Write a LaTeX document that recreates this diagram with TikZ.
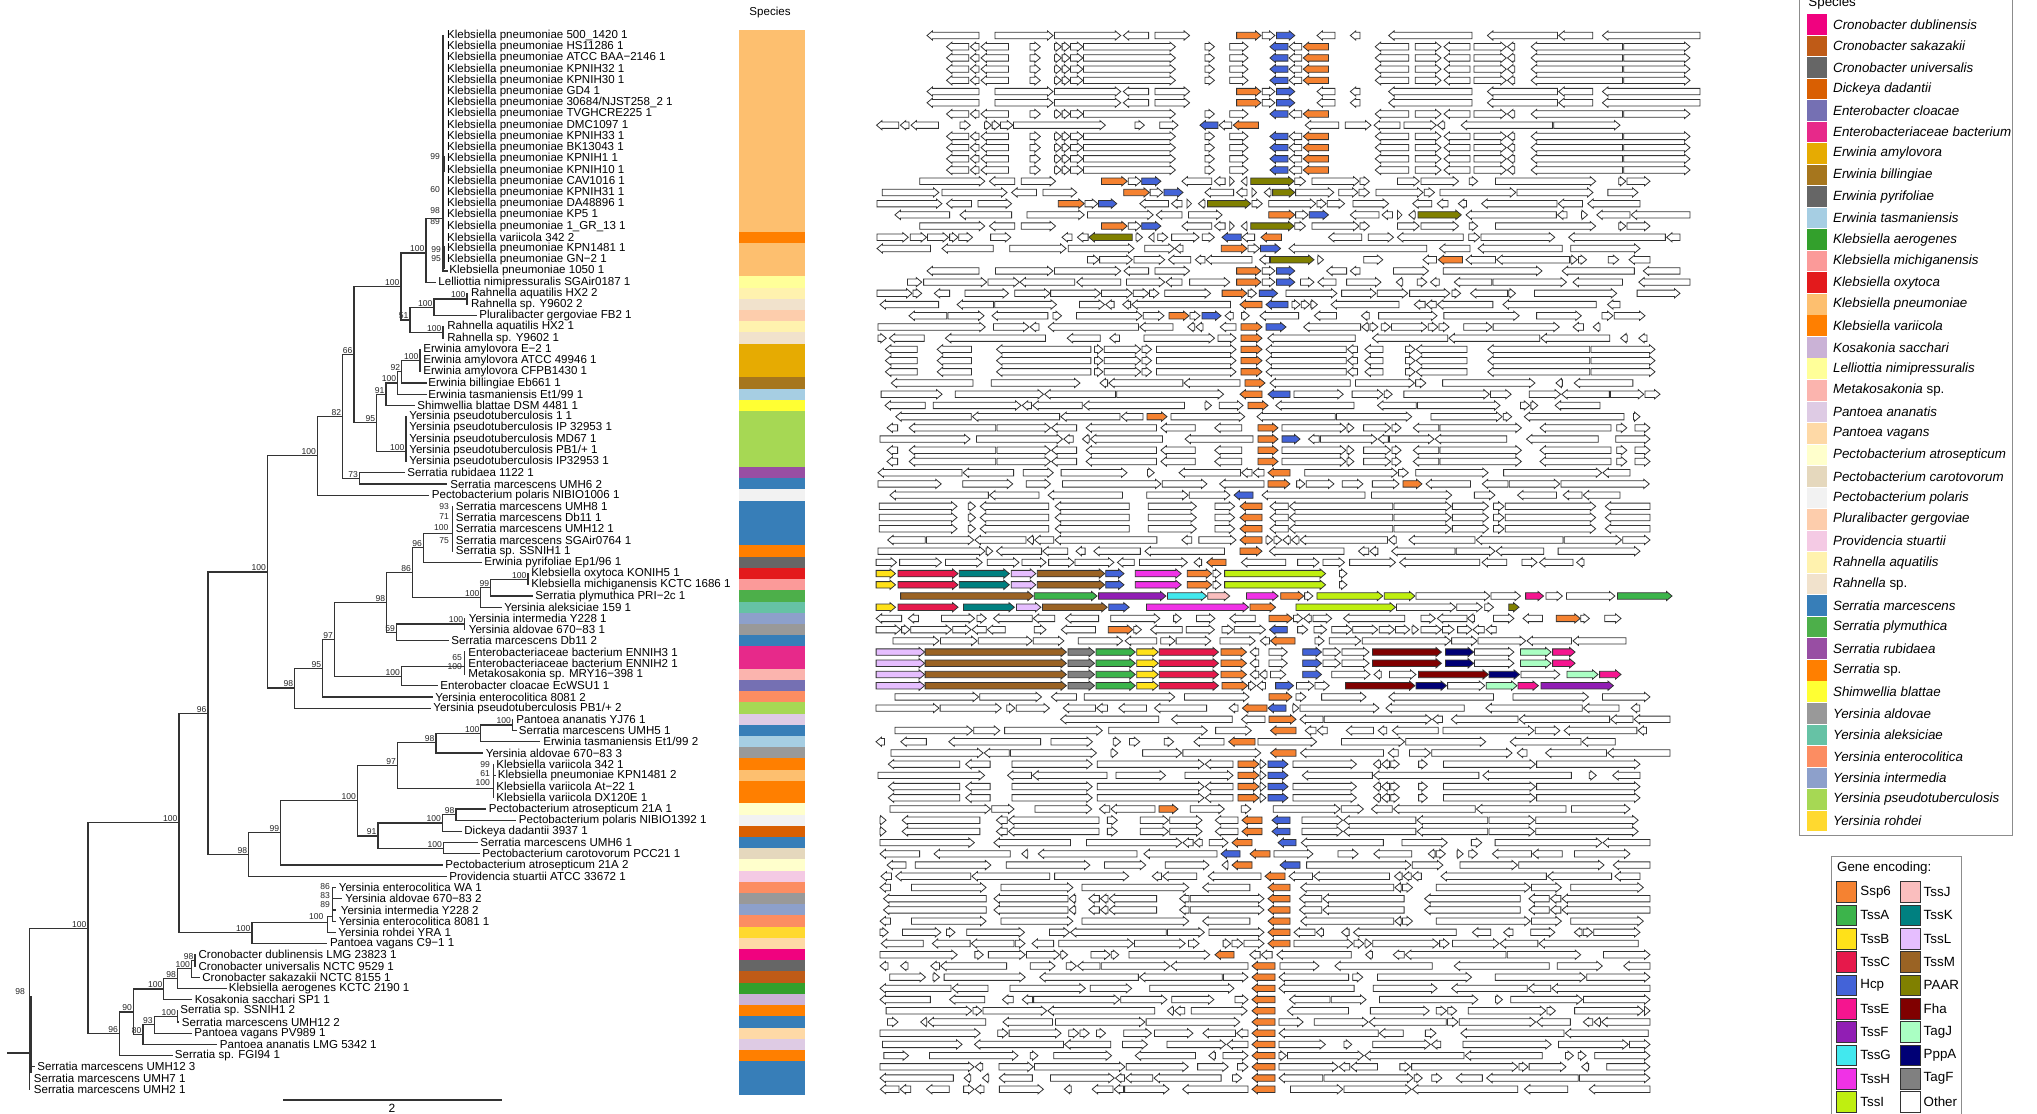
\documentclass[tikz,border=0pt]{standalone}
\usepackage{fontspec}
\setmainfont{Liberation Sans}
\newcount\bsn
\definecolor{ssp}{HTML}{F58231}\definecolor{tssA}{HTML}{3CB44B}\definecolor{tssB}{HTML}{FFE119}
\definecolor{tssC}{HTML}{E6194B}\definecolor{hcp}{HTML}{4363D8}\definecolor{tssE}{HTML}{F5158F}
\definecolor{tssF}{HTML}{911EB4}\definecolor{tssG}{HTML}{42E8EE}\definecolor{tssH}{HTML}{F032E6}
\definecolor{tssI}{HTML}{BFEF10}\definecolor{tssJ}{HTML}{FABEBE}\definecolor{tssK}{HTML}{008080}
\definecolor{tssL}{HTML}{E6BEFF}\definecolor{tssM}{HTML}{9A6324}\definecolor{paar}{HTML}{808000}
\definecolor{fha}{HTML}{800000}\definecolor{tagJ}{HTML}{AAFFC3}\definecolor{pppA}{HTML}{000075}
\definecolor{tagF}{HTML}{808080}
\definecolor{Cdub}{HTML}{F0027F}\definecolor{Csak}{HTML}{BF5B17}\definecolor{Cuni}{HTML}{666666}
\definecolor{Dick}{HTML}{D95F02}\definecolor{Eclo}{HTML}{7570B3}\definecolor{Entb}{HTML}{E7298A}
\definecolor{Eamy}{HTML}{E6AB02}\definecolor{Ebil}{HTML}{A6761D}\definecolor{Epyr}{HTML}{666666}
\definecolor{Etas}{HTML}{A6CEE3}\definecolor{Kaer}{HTML}{33A02C}\definecolor{Kmic}{HTML}{FB9A99}
\definecolor{Koxy}{HTML}{E31A1C}\definecolor{Kpne}{HTML}{FDBF6F}\definecolor{Kvar}{HTML}{FF7F00}
\definecolor{Ksac}{HTML}{CAB2D6}\definecolor{Lnim}{HTML}{FFFF99}\definecolor{Meta}{HTML}{FBB4AE}
\definecolor{Pana}{HTML}{DECBE4}\definecolor{Pvag}{HTML}{FED9A6}\definecolor{Patr}{HTML}{FFFFCC}
\definecolor{Pcar}{HTML}{E5D8BD}\definecolor{Ppol}{HTML}{F2F2F2}\definecolor{Pger}{HTML}{FDCDAC}
\definecolor{Pstu}{HTML}{F4CAE4}\definecolor{Raq}{HTML}{FFF2AE}\definecolor{Rsp}{HTML}{F1E2CC}
\definecolor{Smar}{HTML}{377EB8}\definecolor{Sply}{HTML}{4DAF4A}\definecolor{Srub}{HTML}{984EA3}
\definecolor{Ssp}{HTML}{FF7F00}\definecolor{Sbla}{HTML}{FFFF33}\definecolor{Yald}{HTML}{999999}
\definecolor{Yale}{HTML}{66C2A5}\definecolor{Yent}{HTML}{FC8D62}\definecolor{Yint}{HTML}{8DA0CB}
\definecolor{Ypse}{HTML}{A6D854}\definecolor{Yroh}{HTML}{FFD92F}
\pgfmathdeclarefunction{ry}{1}{\pgfmathparse{35.5+11.21*(#1-1)}}
\tikzset{
 tree/.style={draw=black!80, line width=0.6bp, line cap=rect},
 boot/.style={font=\fontsize{4.3}{4.5}\selectfont, anchor=south east, inner sep=0.3bp, text=black!85},
 leaflab/.style={font=\fontsize{5.8}{6}\selectfont, anchor=west, inner sep=0pt},
 gene/.style={draw=black!80, line width=0.4bp, line join=miter},
 legtext/.style={font=\fontsize{6.7}{7}\selectfont, anchor=west, inner sep=0pt},
 legbox/.style={draw=black!45, line width=0.5bp},
}
\newcommand\TrV[3]{\draw[tree] (#1,{ry(#2)}) -- (#1,{ry(#3)});}
\newcommand\TrH[3]{\draw[tree] (#1,{ry(#3)}) -- (#2,{ry(#3)});}
\newcommand\TrB[3]{\global\advance\bsn by 1\relax\node[boot] (bs\the\bsn) at ({#1-0.5},{ry(#2)}) {#3};}
\newcommand\TrBp[3]{\global\advance\bsn by 1\relax\node[boot,anchor=east] (bs\the\bsn) at (#1,#2) {#3};}
\newcommand\lf[3]{\node[leaflab] (leaf#1) at (#2,{ry(#1)}) {#3};}
\newcommand\genearrow[3]{%
  \pgfmathsetmacro\gdir{(#2)>(#1) ? 1 : -1}%
  \pgfmathsetmacro\ghl{min(5.5,abs((#2)-(#1)))}%
  \pgfmathsetmacro\gm{(#2)-(\gdir)*(\ghl)}%
  \filldraw[gene,fill=#3] (#1,\gy-3.2) -- (\gm,\gy-3.2) -- (\gm,\gy-4.6) -- (#2,\gy) -- (\gm,\gy+4.6) -- (\gm,\gy+3.2) -- (#1,\gy+3.2) -- cycle;}
\newcommand\fillwhite[2]{%
  \pgfmathsetmacro\fwx{#1+(rnd<0.5 ? 0 : 12*rnd)}%
  \pgfmathtruncatemacro\fwd{rnd<0.5 ? 1 : 0}%
  \loop
    \pgfmathsetmacro\fwl{rnd<0.27 ? 6+5*rnd : 18+90*rnd}%
    \pgfmathsetmacro\fwe{min(\fwx+\fwl,#2)}%
    \pgfmathtruncatemacro\fwok{(\fwe-\fwx)>=5 ? 1 : 0}%
    \ifnum\fwok=1
      \pgfmathtruncatemacro\fwd{rnd<0.3 ? 1-\fwd : \fwd}%
      \ifnum\fwd=1 \genearrow{\fwx}{\fwe}{white}\else\genearrow{\fwe}{\fwx}{white}\fi
    \fi
    \pgfmathsetmacro\fwx{\fwe+(rnd<0.4 ? 1.2 : 3+22*rnd)}%
  \ifdim\fwx pt<\dimexpr#2pt-5pt\relax\repeat}
\newcommand\generow[4]{%
  \pgfmathsetmacro\gy{35.5+11.21*(#1-1)}%
  \pgfmathsetseed{#2}%
  \foreach \wa/\wb in {#3}{\fillwhite{\wa}{\wb}}%
  \foreach \ga/\gb/\gc in {#4}{\genearrow{\ga}{\gb}{\gc}}}
\newcommand\patA[1]{\generow{#1}{11}{1476/1700}{979/927/white, 995/1053/white, 1054.5/1120.7/white, 1148.6/1123.3/white, 1155/1189.6/white, 1236.6/1261/ssp, 1262.3/1274.9/white, 1276.4/1294.8/hcp, 1335/1317/white, 1360/1350.3/white, 1472/1388.6/white}}
\newcommand\patB[1]{\generow{#1}{22}{1474/1690}{968.7/946.5/white, 979/970.3/white, 1008.5/981/white, 1030/1040.3/white, 1054.5/1061.4/white, 1062.1/1069.8/white, 1070.5/1082.8/white, 1083.5/1175.4/white, 1204.9/1214.4/white, 1229.7/1248/white, 1287.9/1269.9/hcp, 1301.7/1289/white, 1328.5/1303.2/ssp, 1408.8/1375.2/white, 1415.3/1441/white, 1470/1444/white}}
\newcommand\patC[1]{\generow{#1}{33}{1462/1650}{919.8/984.8/white, 1014.7/989.4/white, 1021.2/1055.6/white, 1101.5/1127.2/ssp, 1128.3/1141/white, 1141.7/1160.9/hcp, 1211.8/1181.9/white, 1225.1/1214.4/white, 1229.7/1234.3/white, 1247/1241.2/white, 1250.8/1294/paar, 1294.8/1305.5/white, 1312/1359/white, 1359.9/1369.4/white, 1397.4/1419.2/white, 1421/1458.6/white}}
\newcommand\patD[1]{\generow{#1}{49}{0/0}{876.1/895.5/tssB, 898/958/tssC, 959.3/1009.3/tssK, 1011.3/1035.8/tssL, 1037.3/1104.7/tssM, 1105.7/1124/hcp, 1135.3/1181.2/tssH, 1187.3/1211.8/ssp, 1212.9/1221/white, 1224.6/1325.6/tssI, 1339.4/1347/white}}
\newcommand\patE[1]{\generow{#1}{56}{0/0}{876.1/924.6/tssL, 925.1/1066.4/tssM, 1068/1094.5/tagF, 1096/1135.3/tssA, 1136.8/1158.3/tssB, 1159.3/1218.5/tssC, 1221/1246.5/ssp, 1258.8/1250.1/white, 1269/1287.3/white, 1302.7/1321.5/hcp, 1323/1340.4/white, 1342/1369/white, 1372.5/1441.4/fha, 1445.5/1473.6/pppA, 1474.5/1513.9/white, 1520.5/1551.1/tagJ, 1552.6/1575.1/tssE}}
\begin{document}
\begin{tikzpicture}[x=0.5bp,y=-0.5bp]
\useasboundingbox (0,0) rectangle (2037,1113);
\fill[white] (0,0) rectangle (2037,1113);
\clip (0,0) rectangle (2037,1113);
% ---------------- tree ----------------
\TrV{443}{1}{22}\TrH{443}{447}{22}\TrH{426}{443}{17.3}
\draw[tree,line width=1.1bp] (443.6,157) -- (443.6,171);
\draw[tree,line width=1.1bp] (443.6,247) -- (443.6,268);
\TrBp{441}{157}{99}\TrBp{441}{190}{60}\TrBp{441}{211}{98}\TrBp{441}{222}{89}\TrBp{442}{250}{99}\TrBp{442}{259}{95}
\TrV{426}{17.3}{23}\TrH{426}{435}{23}\TrB{426}{20.4}{100}\TrH{401}{426}{20.4}
\TrV{467}{24}{25}\TrB{467}{24.5}{100}\TrH{434}{467}{24.5}
\TrV{434}{24.5}{26}\TrH{434}{476.7}{26}\TrB{434}{25.25}{100}\TrH{410}{434}{25.25}
\TrV{443}{27}{28}\TrB{443}{27.5}{100}\TrH{410}{443}{27.5}
\TrV{410}{25.25}{27.5}\TrB{410}{26.375}{51}\TrH{401}{410}{26.375}
\TrV{401}{20.4}{26.375}\TrB{401}{23.4}{100}\TrH{354}{401}{23.4}
\TrV{420}{29}{31}\TrB{420}{30}{100}\TrH{401.7}{420}{30}
\TrV{401.7}{30}{32}\TrH{401.7}{426}{32}\TrB{401.7}{31}{92}\TrH{397.7}{401.7}{31}
\TrV{397.7}{31}{33}\TrH{397.7}{426}{33}\TrB{397.7}{32}{100}\TrH{386}{397.7}{32}
\TrV{386}{32}{34}\TrH{386}{414}{34}\TrB{386}{33}{91}\TrH{376.7}{386}{33}
\TrV{406}{35}{39}\TrB{406}{38.1}{100}\TrH{376.7}{406}{38.1}
\TrV{376.7}{33}{38.1}\TrB{376.7}{35.55}{95}\TrH{354}{376.7}{35.55}
\TrV{354}{23.4}{35.55}\TrB{354}{29.45}{66}\TrH{342.7}{354}{29.45}
\TrV{359.3}{40}{41}\TrH{359.3}{404}{40}\TrH{359.3}{446}{41}\TrB{359.3}{40.5}{73}\TrH{342.7}{359.3}{40.5}
\TrV{342.7}{29.45}{40.5}\TrB{342.7}{34.97}{82}\TrH{317.3}{342.7}{34.97}
\TrV{317.3}{34.97}{42}\TrH{317.3}{428}{42}\TrB{317.3}{38.5}{100}\TrH{267.3}{317.3}{38.5}
\TrV{452.3}{43}{47}\TrH{423.3}{452.3}{45.4}
\TrBp{450}{506.7}{93}\TrBp{450}{516.7}{71}\TrBp{449.5}{527.7}{100}\TrBp{450}{541}{75}
\TrV{423.3}{45.4}{48}\TrH{423.3}{481}{48}\TrB{423.3}{46.7}{96}\TrH{412.3}{423.3}{46.7}
\TrV{528}{49}{50}\TrB{528}{49.5}{100}\TrH{490.6}{528}{49.5}
\TrV{490.6}{49.5}{51}\TrH{490.6}{532}{51}\TrB{490.6}{50.25}{99}\TrH{480.8}{490.6}{50.25}
\TrV{480.8}{50.25}{52}\TrH{480.8}{501.5}{52}\TrB{480.8}{51.125}{100}\TrH{412.3}{480.8}{51.125}
\TrV{412.3}{46.7}{51.125}\TrB{412.3}{48.9}{86}\TrH{386.7}{412.3}{48.9}
\TrV{464.7}{53}{54}\TrB{464.7}{53.5}{100}\TrH{396.3}{464.7}{53.5}
\TrV{396.3}{53.5}{55}\TrH{396.3}{448}{55}\TrB{396.3}{54.25}{59}\TrH{386.7}{396.3}{54.25}
\TrV{386.7}{48.9}{54.25}\TrB{386.7}{51.58}{98}\TrH{334.3}{386.7}{51.58}
\TrV{464.7}{56}{58}\TrBp{463}{658}{65}\TrBp{463}{667}{100}\TrH{401.5}{464.7}{57.3}
\TrV{401.5}{57.3}{59}\TrH{401.5}{437.5}{59}\TrB{401.5}{58.15}{100}\TrH{334.3}{401.5}{58.15}
\TrV{334.3}{51.58}{58.15}\TrB{334.3}{54.87}{97}\TrH{322.7}{334.3}{54.87}
\TrV{322.7}{54.87}{60}\TrH{322.7}{432.5}{60}\TrB{322.7}{57.43}{95}\TrH{294.7}{322.7}{57.43}
\TrV{294.7}{57.43}{61}\TrH{294.7}{430.5}{61}\TrB{294.7}{59.2}{98}\TrH{267.3}{294.7}{59.2}
\TrV{267.3}{38.5}{59.2}\TrB{267.3}{48.85}{100}\TrH{208}{267.3}{48.85}
\TrV{512.4}{62}{63}\TrH{512.4}{516}{63}\TrB{512.4}{62.5}{100}\TrH{480.8}{512.4}{62.5}
\TrV{480.8}{62.5}{64}\TrH{480.8}{539}{64}\TrB{480.8}{63.25}{100}\TrH{436}{480.8}{63.25}
\TrV{436}{63.25}{65}\TrH{436}{482}{65}\TrB{436}{64.1}{98}\TrH{397.5}{436}{64.1}
\TrV{493.3}{66}{69}\TrH{493.3}{495}{67}\TrBp{491}{765}{99}\TrBp{491}{774}{61}\TrBp{491}{783}{100}\TrH{397.5}{493.3}{68.15}
\TrV{397.5}{64.1}{68.15}\TrB{397.5}{66.1}{97}\TrH{357.3}{397.5}{66.1}
\TrV{456}{70}{71}\TrH{456}{485}{70}\TrH{456}{515.7}{71}\TrB{456}{70.5}{98}\TrH{442.3}{456}{70.5}
\TrV{442.3}{70.5}{72}\TrH{442.3}{461}{72}\TrB{442.3}{71.25}{100}\TrH{378}{442.3}{71.25}
\TrV{443.5}{73}{74}\TrH{443.5}{477.5}{73}\TrH{443.5}{479.6}{74}\TrB{443.5}{73.5}{100}\TrH{378}{443.5}{73.5}
\TrV{378}{71.25}{73.5}\TrB{378}{72.4}{91}\TrH{357.3}{378}{72.4}
\TrV{357.3}{66.1}{72.4}\TrB{357.3}{69.25}{100}\TrH{280.6}{357.3}{69.25}
\TrV{280.6}{69.25}{75}\TrH{280.6}{442}{75}\TrB{280.6}{72.1}{99}\TrH{248.7}{280.6}{72.1}
\TrV{248.7}{72.1}{76}\TrH{248.7}{446}{76}\TrB{248.7}{74.05}{98}\TrH{208}{248.7}{74.05}
\TrV{208}{48.85}{74.05}\TrB{208}{61.45}{96}\TrH{179}{208}{61.45}
\TrV{332.4}{77}{80}\TrH{332.4}{335}{77}\TrH{332.4}{341.5}{78}\TrH{332.4}{335}{79}\TrH{332.4}{335}{80}
\TrBp{331}{886.7}{86}\TrBp{331}{895.7}{83}\TrBp{331}{905}{89}\TrBp{324.5}{916.7}{100}
\TrV{327.5}{79.6}{81}\TrH{327.5}{335}{81}\TrH{327.5}{332.4}{79.6}\TrH{252}{327.5}{80.1}
\TrV{252}{80.1}{82}\TrH{252}{326.7}{82}\TrB{252}{81.0}{100}\TrH{179}{252}{81.0}
\TrV{179}{61.45}{81.0}\TrB{179}{71.23}{100}\TrH{88}{179}{71.23}
\TrV{194.9}{83}{84}\TrB{194.9}{83.5}{98}\TrH{191.5}{194.9}{83.5}
\TrV{191.5}{83.5}{85}\TrH{191.5}{199}{85}\TrB{191.5}{84.25}{100}\TrH{177.4}{191.5}{84.25}
\TrV{177.4}{84.25}{86}\TrH{177.4}{226}{86}\TrB{177.4}{85.1}{98}\TrH{163.8}{177.4}{85.1}
\TrV{163.8}{85.1}{87}\TrH{163.8}{191.5}{87}\TrB{163.8}{86.05}{100}\TrH{133.5}{163.8}{86.05}
\TrV{177.4}{88}{89}\TrH{177.4}{178.5}{89}\TrB{177.4}{88.5}{100}\TrH{154.2}{177.4}{88.5}
\TrV{154.2}{88.5}{90}\TrH{154.2}{191.5}{90}\TrB{154.2}{89.25}{93}\TrH{143}{154.2}{89.25}
\TrV{143}{89.25}{91}\TrH{143}{216.4}{91}\TrB{143}{90.1}{80}\TrH{133.5}{143}{90.1}
\TrV{133.5}{86.05}{90.1}\TrB{133.5}{88.1}{90}\TrH{119.4}{133.5}{88.1}
\TrV{119.4}{88.1}{92}\TrH{119.4}{172}{92}\TrB{119.4}{90.05}{96}\TrH{88}{119.4}{90.05}
\TrV{88}{71.23}{90.05}\TrB{88}{80.65}{100}\TrH{29.5}{88}{80.65}
\TrV{29.5}{80.65}{95}\TrH{29.5}{34}{93}
\draw[tree,line width=1.1bp] (30.5,997) -- (30.5,1072);
\draw[tree] (8,1053) -- (29.5,1053);
\TrBp{26}{992}{98}
% ---------------- leaf labels ----------------
\lf{1}{446.7}{Klebsiella pneumoniae 500\_1420 1}
\lf{2}{446.7}{Klebsiella pneumoniae HS11286 1}
\lf{3}{446.7}{Klebsiella pneumoniae ATCC BAA−2146 1}
\lf{4}{446.7}{Klebsiella pneumoniae KPNIH32 1}
\lf{5}{446.7}{Klebsiella pneumoniae KPNIH30 1}
\lf{6}{446.7}{Klebsiella pneumoniae GD4 1}
\lf{7}{446.7}{Klebsiella pneumoniae 30684/NJST258\_2 1}
\lf{8}{446.7}{Klebsiella pneumoniae TVGHCRE225 1}
\lf{9}{446.7}{Klebsiella pneumoniae DMC1097 1}
\lf{10}{446.7}{Klebsiella pneumoniae KPNIH33 1}
\lf{11}{446.7}{Klebsiella pneumoniae BK13043 1}
\lf{12}{446.7}{Klebsiella pneumoniae KPNIH1 1}
\lf{13}{446.7}{Klebsiella pneumoniae KPNIH10 1}
\lf{14}{446.7}{Klebsiella pneumoniae CAV1016 1}
\lf{15}{446.7}{Klebsiella pneumoniae KPNIH31 1}
\lf{16}{446.7}{Klebsiella pneumoniae DA48896 1}
\lf{17}{446.7}{Klebsiella pneumoniae KP5 1}
\lf{18}{446.7}{Klebsiella pneumoniae 1\_GR\_13 1}
\lf{19}{446.7}{Klebsiella variicola 342 2}
\lf{20}{446.7}{Klebsiella pneumoniae KPN1481 1}
\lf{21}{446.7}{Klebsiella pneumoniae GN−2 1}
\lf{22}{449}{Klebsiella pneumoniae 1050 1}
\lf{23}{438}{Lelliottia nimipressuralis SGAir0187 1}
\lf{24}{470.7}{Rahnella aquatilis HX2 2}
\lf{25}{470.7}{Rahnella sp. Y9602 2}
\lf{26}{479}{Pluralibacter gergoviae FB2 1}
\lf{27}{447}{Rahnella aquatilis HX2 1}
\lf{28}{447}{Rahnella sp. Y9602 1}
\lf{29}{423}{Erwinia amylovora E−2 1}
\lf{30}{423}{Erwinia amylovora ATCC 49946 1}
\lf{31}{423}{Erwinia amylovora CFPB1430 1}
\lf{32}{428}{Erwinia billingiae Eb661 1}
\lf{33}{428}{Erwinia tasmaniensis Et1/99 1}
\lf{34}{417}{Shimwellia blattae DSM 4481 1}
\lf{35}{409}{Yersinia pseudotuberculosis 1 1}
\lf{36}{409}{Yersinia pseudotuberculosis IP 32953 1}
\lf{37}{409}{Yersinia pseudotuberculosis MD67 1}
\lf{38}{409}{Yersinia pseudotuberculosis PB1/+ 1}
\lf{39}{409}{Yersinia pseudotuberculosis IP32953 1}
\lf{40}{407}{Serratia rubidaea 1122 1}
\lf{41}{450}{Serratia marcescens UMH6 2}
\lf{42}{431.5}{Pectobacterium polaris NIBIO1006 1}
\lf{43}{455.5}{Serratia marcescens UMH8 1}
\lf{44}{455.5}{Serratia marcescens Db11 1}
\lf{45}{455.5}{Serratia marcescens UMH12 1}
\lf{46}{455.5}{Serratia marcescens SGAir0764 1}
\lf{47}{455.5}{Serratia sp. SSNIH1 1}
\lf{48}{484}{Erwinia pyrifoliae Ep1/96 1}
\lf{49}{531}{Klebsiella oxytoca KONIH5 1}
\lf{50}{531}{Klebsiella michiganensis KCTC 1686 1}
\lf{51}{535}{Serratia plymuthica PRI−2c 1}
\lf{52}{504}{Yersinia aleksiciae 159 1}
\lf{53}{468.5}{Yersinia intermedia Y228 1}
\lf{54}{468.5}{Yersinia aldovae 670−83 1}
\lf{55}{451}{Serratia marcescens Db11 2}
\lf{56}{468}{Enterobacteriaceae bacterium ENNIH3 1}
\lf{57}{468}{Enterobacteriaceae bacterium ENNIH2 1}
\lf{58}{468}{Metakosakonia sp. MRY16−398 1}
\lf{59}{440}{Enterobacter cloacae EcWSU1 1}
\lf{60}{435}{Yersinia enterocolitica 8081 2}
\lf{61}{433}{Yersinia pseudotuberculosis PB1/+ 2}
\lf{62}{516}{Pantoea ananatis YJ76 1}
\lf{63}{518.5}{Serratia marcescens UMH5 1}
\lf{64}{543}{Erwinia tasmaniensis Et1/99 2}
\lf{65}{485.5}{Yersinia aldovae 670−83 3}
\lf{66}{496}{Klebsiella variicola 342 1}
\lf{67}{497.5}{Klebsiella pneumoniae KPN1481 2}
\lf{68}{496}{Klebsiella variicola At−22 1}
\lf{69}{496}{Klebsiella variicola DX120E 1}
\lf{70}{488.5}{Pectobacterium atrosepticum 21A 1}
\lf{71}{518.5}{Pectobacterium polaris NIBIO1392 1}
\lf{72}{464}{Dickeya dadantii 3937 1}
\lf{73}{480}{Serratia marcescens UMH6 1}
\lf{74}{482}{Pectobacterium carotovorum PCC21 1}
\lf{75}{445}{Pectobacterium atrosepticum 21A 2}
\lf{76}{449}{Providencia stuartii ATCC 33672 1}
\lf{77}{338.5}{Yersinia enterocolitica WA 1}
\lf{78}{345}{Yersinia aldovae 670−83 2}
\lf{79}{340.5}{Yersinia intermedia Y228 2}
\lf{80}{338.5}{Yersinia enterocolitica 8081 1}
\lf{81}{338}{Yersinia rohdei YRA 1}
\lf{82}{329.6}{Pantoea vagans C9−1 1}
\lf{83}{198.2}{Cronobacter dublinensis LMG 23823 1}
\lf{84}{198.2}{Cronobacter universalis NCTC 9529 1}
\lf{85}{202}{Cronobacter sakazakii NCTC 8155 1}
\lf{86}{228.5}{Klebsiella aerogenes KCTC 2190 1}
\lf{87}{194.5}{Kosakonia sacchari SP1 1}
\lf{88}{180}{Serratia sp. SSNIH1 2}
\lf{89}{181.5}{Serratia marcescens UMH12 2}
\lf{90}{194}{Pantoea vagans PV989 1}
\lf{91}{219.5}{Pantoea ananatis LMG 5342 1}
\lf{92}{174.5}{Serratia sp. FGI94 1}
\lf{93}{37}{Serratia marcescens UMH12 3}
\lf{94}{33.5}{Serratia marcescens UMH7 1}
\lf{95}{33.5}{Serratia marcescens UMH2 1}
% scale bar
\draw[tree] (284,1100) -- (501,1100);
\node[font=\fontsize{6}{6}\selectfont, inner sep=0pt] (scalelab) at (392,1108.5) {2};
% ---------------- species bar ----------------
\node[font=\fontsize{5.8}{6}\selectfont, inner sep=0pt] (spechead) at (770,13) {Species};
\foreach \r/\scol in {1/Kpne,2/Kpne,3/Kpne,4/Kpne,5/Kpne,6/Kpne,7/Kpne,8/Kpne,9/Kpne,10/Kpne,11/Kpne,12/Kpne,13/Kpne,14/Kpne,15/Kpne,16/Kpne,17/Kpne,18/Kpne,19/Kvar,20/Kpne,21/Kpne,22/Kpne,23/Lnim,24/Raq,25/Rsp,26/Pger,27/Raq,28/Rsp,29/Eamy,30/Eamy,31/Eamy,32/Ebil,33/Etas,34/Sbla,35/Ypse,36/Ypse,37/Ypse,38/Ypse,39/Ypse,40/Srub,41/Smar,42/Ppol,43/Smar,44/Smar,45/Smar,46/Smar,47/Ssp,48/Epyr,49/Koxy,50/Kmic,51/Sply,52/Yale,53/Yint,54/Yald,55/Smar,56/Entb,57/Entb,58/Meta,59/Eclo,60/Yent,61/Ypse,62/Pana,63/Smar,64/Etas,65/Yald,66/Kvar,67/Kpne,68/Kvar,69/Kvar,70/Patr,71/Ppol,72/Dick,73/Smar,74/Pcar,75/Patr,76/Pstu,77/Yent,78/Yald,79/Yint,80/Yent,81/Yroh,82/Pvag,83/Cdub,84/Cuni,85/Csak,86/Kaer,87/Ksac,88/Ssp,89/Smar,90/Pvag,91/Pana,92/Ssp,93/Smar,94/Smar,95/Smar}
  {\fill[\scol] (739,{ry(\r)-5.7}) rectangle (805,{ry(\r)+5.7});}
% ---------------- gene rows ----------------
\patA{1}\patB{2}\patB{3}\patB{4}\patB{5}\patA{6}\patA{7}\patB{8}
\begin{scope}[xshift=-35bp]\patB{9}\end{scope}
\patB{10}\patB{11}\patB{12}\patB{13}\patC{14}
\generow{15}{115}{1440/1660}{882.2/938.9/white, 941.9/1007/white, 1036.5/1011.6/white, 1043/1076.7/white, 1123.7/1149.4/ssp, 1150.1/1162.8/white, 1163.9/1183/hcp, 1233.6/1204.9/white, 1247/1236.6/white, 1252/1256.5/white, 1271/1264.2/white, 1272.6/1294.8/paar, 1295.6/1333.8/white, 1338.8/1357.9/white, 1359/1369.4/white, 1375.9/1423/white, 1424.2/1434.5/white}
\generow{16}{116}{1452/1640}{876.9/941.9/white, 971.4/946.5/white, 977.9/1011.6/white, 1058.3/1084.3/ssp, 1085/1097.7/white, 1098.5/1116.8/hcp, 1168.5/1139.8/white, 1181.9/1171.6/white, 1186.9/1191.5/white, 1204.9/1198.4/white, 1207.5/1250.8/paar, 1252/1262.3/white, 1268.8/1315.8/white, 1317/1326.2/white, 1327.3/1344.6/white, 1353/1388.6/white, 1431.8/1412.7/white, 1447.9/1437.2/white}
\generow{17}{117}{1466/1690}{949.6/894.9/white, 1011.6/959.9/white, 1026.9/1084.3/white, 1087.4/1153.2/white, 1181.9/1156.3/white, 1188.4/1222.1/white, 1268.8/1294.8/ssp, 1295.6/1308.2/white, 1309.3/1328.5/hcp, 1379/1350.3/white, 1392.4/1382/white, 1397.4/1402/white, 1415.3/1408.8/white, 1418/1461.3/paar}
\patC{18}
\generow{19}{119}{1466/1680}{877/908.3/white, 910.2/926.6/white, 927.4/948.5/white, 949.6/958/white, 958.8/972.6/white, 990.6/1010.8/white, 1072/1062/white, 1088.1/1077.4/white, 1132.2/1088.9/paar, 1136/1142.5/white, 1154/1148.6/white, 1157.8/1167.7/white, 1171.6/1199.1/white, 1202.2/1214.4/white, 1241.2/1222/hcp, 1254.6/1242/white, 1281.4/1261/ssp, 1361.8/1328.5/white, 1368.3/1393.5/white, 1463.2/1397.4/white}
\generow{20}{120}{1474/1640}{930.5/877/white, 993.2/942/white, 1009.7/1066/white, 1068.2/1134/white, 1144.8/1174.3/white, 1183/1174.8/white, 1221.3/1247/ssp, 1248/1259.6/white, 1260.4/1280.6/hcp, 1426.8/1289/white, 1470/1439.5/white}
\generow{21}{121}{1466/1650}{1087.4/1098.9/white, 1099.6/1132.2/white, 1134/1164.7/white, 1190.7/1168.5/white, 1204.9/1195.3/white, 1252/1206/white, 1269.5/1259.6/white, 1270.5/1314/paar, 1317.8/1323.5/white, 1363.7/1382.8/white, 1436.4/1423/white, 1462.4/1438.3/ssp}
\generow{22}{122}{1432/1680}{979/927/white, 995.5/1052.9/white, 1054.5/1120.7/white, 1148.6/1124/white, 1155/1189.6/white, 1236.6/1261/ssp, 1262.3/1274.9/white, 1276.4/1294.8/hcp, 1346.6/1326.6/white, 1360/1350.3/white, 1393.5/1428.5/white}
\generow{23}{123}{1430/1690}{907.5/921.7/white, 923.6/986.7/white, 987.9/1019.3/white, 1074.7/1020/white, 1120.7/1076.7/white, 1126.4/1164.7/white, 1181.9/1166/white, 1189.6/1229.7/white, 1236.6/1261/ssp, 1262.3/1274.9/white, 1276.4/1294.8/hcp, 1300.5/1314/white, 1336/1317.8/white, 1346.6/1381/white, 1402.7/1396.2/white, 1417.2/1426.8/white}
\generow{24}{124}{1452/1680}{876.9/912/white, 912.9/921.7/white, 949.6/934.3/white, 964.9/1008.5/white, 1014.7/1049.9/white, 1050.6/1100.4/white, 1101.5/1132.2/white, 1133.3/1148.6/white, 1149.4/1158.9/white, 1164.7/1210.6/white, 1222.1/1247/ssp, 1248.1/1256.5/white, 1259.2/1277.6/hcp, 1286/1336.9/white, 1341.6/1376/white, 1377.2/1407.7/white, 1409.6/1449.8/white}
\generow{25}{125}{880/1234, 1292/1620}{1262/1240/ssp, 1288/1266/hcp}
\generow{26}{126}{900/1164, 1225/1645}{1169/1189/ssp, 1190/1200/white, 1202/1221/hcp}
\generow{27}{127}{878/1236, 1292/1600}{1241/1262/ssp, 1266/1286/hcp}
\generow{28}{128}{878/1236, 1266/1650}{1241/1262/ssp}
\generow{29}{129}{880/1236, 1266/1655}{1241/1262/ssp}
\generow{30}{129}{880/1236, 1266/1655}{1241/1262/ssp}
\generow{31}{129}{880/1236, 1266/1655}{1241/1262/ssp}
\generow{32}{132}{882/1240, 1270/1640}{1245/1265/ssp}
\generow{33}{133}{878/1236, 1294/1660}{1262/1240/ssp, 1290/1268/hcp}
\generow{34}{134}{885/1243, 1272/1600}{1248/1268/ssp}
\generow{35}{135}{890/1143, 1171/1640}{1147/1167/ssp}
\generow{36}{136}{880/1253, 1282/1650}{1258/1278/ssp}
\generow{37}{137}{880/1253, 1304/1650}{1258/1278/ssp, 1282/1300/hcp}
\generow{38}{136}{880/1253, 1282/1650}{1258/1278/ssp}
\generow{39}{136}{880/1253, 1282/1650}{1258/1278/ssp}
\generow{40}{140}{878/1264, 1294/1630}{1290/1268/ssp}
\generow{41}{141}{878/1264, 1294/1399, 1426/1660}{1268/1290/ssp, 1403/1422/ssp}
\generow{42}{142}{878/1230, 1257/1620}{1253/1234/hcp}
\generow{43}{143}{878/1236, 1266/1650}{1262/1240/ssp}
\generow{44}{143}{878/1236, 1266/1650}{1262/1240/ssp}
\generow{45}{143}{878/1236, 1266/1650}{1262/1240/ssp}
\generow{46}{146}{878/1236, 1266/1650}{1262/1240/ssp}
\generow{47}{147}{878/1236, 1266/1640}{1240/1262/ssp}
\generow{48}{148}{0/0}{876.1/896.5/white, 899.6/941.4/white, 945.5/982.2/white, 987.3/1019/white, 1022/1046/white, 1048.6/1074/white, 1075/1113.9/white, 1134.3/1117.4/white, 1139.4/1187.3/white, 1201.6/1194/white, 1226/1206.7/ssp, 1285.8/1241.4/white, 1297.6/1319/white, 1323/1344.5/white, 1349.6/1395.5/white, 1479.7/1399.6/white, 1506.7/1482/white, 1522/1537/white, 1573/1539.4/white, 1584/1576.6/white}
\patD{49}\patD{50}
\generow{51}{151}{0/0}{900.6/1033.3/tssM, 1034.3/1097/tssA, 1098.6/1165.9/tssF, 1167.4/1206.7/tssG, 1207.8/1229.7/tssJ, 1246.5/1278.2/tssH, 1280.7/1303.7/ssp, 1304.6/1312.9/white, 1316.9/1382.8/tssI, 1384.3/1414.9/tssI, 1416/1489.9/white, 1491/1520.5/white, 1525.6/1543.5/tssE, 1546/1562.4/white, 1566.5/1614.9/white, 1617.4/1672/tssA}
\generow{52}{152}{0/0}{876.1/895.5/tssB, 898/958/tssC, 963.4/1014.4/tssK, 1016.4/1040.9/tssL, 1042.4/1107.2/tssM, 1108.8/1129.2/hcp, 1146.5/1248.6/tssH, 1250/1275.6/ssp, 1296/1395.5/tssI, 1396.5/1455.7/white, 1456.8/1482.2/white, 1484.7/1493.5/white, 1508.8/1519/paar}
\generow{53}{153}{0/0}{901.6/876.1/white, 918.5/908.3/white, 941.4/974.6/white, 977/986.3/white, 1032.2/993.5/white, 1054.7/1033.3/white, 1098.6/1065.4/white, 1110.8/1159.8/white, 1173.6/1181.2/white, 1196.5/1214.9/white, 1255.2/1229.7/white, 1269/1292.4/ssp, 1293.5/1302.7/white, 1311.3/1303.7/white, 1312.9/1331.7/white, 1404.7/1343.5/white, 1421/1435.3/white, 1467/1437.3/white, 1474.5/1467.5/white, 1493.5/1513.9/white, 1542.4/1523/white, 1556.2/1580.2/ssp, 1580.8/1589.4/white, 1604.7/1621/white}
\generow{54}{154}{0/0}{876.1/900.6/white, 901.6/909.8/white, 910.8/951.6/white, 952.7/971/white, 986.3/972/white, 1005.2/987.3/white, 1034.3/1046/white, 1095.5/1061.3/white, 1108.3/1132.7/ssp, 1133.8/1141.4/white, 1182.2/1150.6/white, 1186.3/1214.4/white, 1222/1233.3/white, 1234.3/1265.4/white, 1287.3/1269.5/hcp, 1297.6/1307.7/white, 1313.9/1326.6/white, 1331.7/1352.1/white, 1352.8/1377.7/white, 1379.3/1394.5/white, 1395.5/1409.7/white, 1411.9/1418.5/white, 1421/1441.4/white, 1442.4/1454.1/white, 1457.6/1471.9/white, 1484.2/1473/white, 1496.2/1486.1/white}
\generow{55}{155}{0/0}{893/938.9/white, 940.4/977.1/white, 978.2/1032.2/white, 1033.3/1063.9/white, 1078.2/1122.6/white, 1156.7/1125.1/white, 1160.8/1175.1/white, 1176.1/1210.8/white, 1220/1255.2/white, 1269.5/1260.3/white, 1295/1270.5/ssp, 1314.9/1324.1/white, 1329.2/1360.8/white, 1362.3/1450.6/white, 1451.6/1477.1/white, 1478/1525.6/white, 1571.5/1527/white, 1626/1573/white}
\patE{56}\patE{57}
\generow{58}{158}{0/0}{876.1/924.6/tssL, 925.1/1066.4/tssM, 1068/1094.5/tagF, 1096/1135.3/tssA, 1136.8/1158.3/tssB, 1159.3/1218.5/tssC, 1221/1246.5/ssp, 1258.8/1250.1/white, 1267/1259.6/white, 1270.5/1285.8/white, 1302.7/1321.5/hcp, 1331.7/1370/white, 1381.2/1374/white, 1389.4/1415.9/white, 1418.5/1488.4/fha, 1489/1519.5/pppA, 1521/1559.8/white, 1567/1598/tagJ, 1599.6/1621/tssE}
\generow{59}{159}{0/0}{876.1/924.6/tssL, 925.1/1066.4/tssM, 1068/1094.5/tagF, 1096/1135.3/tssA, 1136.8/1158.3/tssB, 1159.3/1218.5/tssC, 1222/1247.6/ssp, 1248.6/1256/white, 1265.4/1257/white, 1275.6/1293.5/hcp, 1296.5/1313.9/white, 1314.9/1329.2/white, 1345.5/1414.9/fha, 1416/1446.5/pppA, 1447.6/1484.8/white, 1486.3/1517/tagJ, 1518/1538.4/tssE, 1541/1613.4/tssF}
\generow{60}{160}{895/1265, 1296/1650}{1269/1292/ssp}
\generow{61}{161}{876/1238, 1290/1640}{1267/1242.4/ssp, 1286/1268/hcp}
\generow{62}{162}{1060/1265, 1300/1670}{1269/1296/ssp}
\generow{63}{163}{895/1266, 1300/1650}{1296/1270.5/ssp}
\generow{64}{164}{876/1224, 1258/1630}{1255/1228.7/ssp}
\generow{65}{165}{882/1266, 1300/1670}{1296/1270.5/ssp}
\generow{66}{166}{878/1233, 1293/1640}{1238/1259/ssp, 1260/1266/white, 1268/1288/hcp}
\generow{67}{167}{878/1233, 1293/1640}{1238/1259/ssp, 1260/1266/white, 1268/1288/hcp}
\generow{68}{166}{878/1233, 1293/1640}{1238/1259/ssp, 1260/1266/white, 1268/1288/hcp}
\generow{69}{166}{878/1233, 1293/1640}{1238/1259/ssp, 1260/1266/white, 1268/1288/hcp}
\generow{70}{170}{890/1155, 1182/1630}{1159/1178/ssp}
\generow{71}{171}{880/1238, 1294/1640}{1262/1242/ssp, 1290/1272/hcp}
\generow{72}{171}{880/1238, 1294/1640}{1262/1242/ssp, 1290/1272/hcp}
\generow{73}{173}{880/1228, 1300/1650}{1252/1232/ssp, 1296/1278/hcp}
\generow{74}{174}{880/1217, 1274/1630}{1240/1221/hcp, 1270/1250/ssp}
\generow{75}{175}{880/1228, 1304/1650}{1252/1232/ssp, 1300/1280/hcp}
\generow{76}{176}{880/1261, 1289/1640}{1285/1265/ssp}
\generow{77}{177}{880/1264, 1294/1650}{1290/1268/ssp}
\generow{78}{178}{880/1264, 1294/1650}{1290/1268/ssp}
\generow{79}{178}{880/1264, 1294/1650}{1290/1268/ssp}
\generow{80}{177}{880/1264, 1294/1650}{1290/1268/ssp}
\generow{81}{181}{880/1264, 1294/1640}{1290/1268/ssp}
\generow{82}{182}{880/1264, 1294/1640}{1290/1268/ssp}
\generow{83}{183}{880/1211, 1238/1650}{1234/1215/ssp}
\generow{84}{184}{880/1248, 1279/1650}{1275/1252/ssp}
\generow{85}{185}{880/1248, 1279/1650}{1275/1252/ssp}
\generow{86}{186}{880/1248, 1279/1650}{1275/1252/ssp}
\generow{87}{187}{880/1248, 1279/1650}{1275/1252/ssp}
\generow{88}{188}{880/1248, 1279/1650}{1275/1252/ssp}
\generow{89}{189}{880/1248, 1279/1650}{1275/1252/ssp}
\generow{90}{190}{880/1248, 1279/1650}{1275/1252/ssp}
\generow{91}{191}{880/1248, 1279/1650}{1275/1252/ssp}
\generow{92}{192}{880/1248, 1279/1650}{1275/1252/ssp}
\generow{93}{193}{880/1248, 1279/1650}{1275/1252/ssp}
\generow{94}{194}{880/1248, 1279/1650}{1275/1252/ssp}
\generow{95}{195}{880/1248, 1279/1650}{1275/1252/ssp}
% ---------------- species legend ----------------
\draw[legbox] (1799.3,-10) rectangle (2012.7,835.7);
\node[legtext, anchor=base west] (sptitle) at (1808,6.5) {Species};
\foreach \scol/\sname [count=\k from 0] in {
 Cdub/{\itshape Cronobacter dublinensis}, Csak/{\itshape Cronobacter sakazakii},
 Cuni/{\itshape Cronobacter universalis}, Dick/{\itshape Dickeya dadantii},
 Eclo/{\itshape Enterobacter cloacae}, Entb/{\itshape Enterobacteriaceae bacterium},
 Eamy/{\itshape Erwinia amylovora}, Ebil/{\itshape Erwinia billingiae},
 Epyr/{\itshape Erwinia pyrifoliae}, Etas/{\itshape Erwinia tasmaniensis},
 Kaer/{\itshape Klebsiella aerogenes}, Kmic/{\itshape Klebsiella michiganensis},
 Koxy/{\itshape Klebsiella oxytoca}, Kpne/{\itshape Klebsiella pneumoniae},
 Kvar/{\itshape Klebsiella variicola}, Ksac/{\itshape Kosakonia sacchari},
 Lnim/{\itshape Lelliottia nimipressuralis}, Meta/{{\itshape Metakosakonia} sp.},
 Pana/{\itshape Pantoea ananatis}, Pvag/{\itshape Pantoea vagans},
 Patr/{\itshape Pectobacterium atrosepticum}, Pcar/{\itshape Pectobacterium carotovorum},
 Ppol/{\itshape Pectobacterium polaris}, Pger/{\itshape Pluralibacter gergoviae},
 Pstu/{\itshape Providencia stuartii}, Raq/{\itshape Rahnella aquatilis},
 Rsp/{{\itshape Rahnella} sp.}, Smar/{\itshape Serratia marcescens},
 Sply/{\itshape Serratia plymuthica}, Srub/{\itshape Serratia rubidaea},
 Ssp/{{\itshape Serratia} sp.}, Sbla/{\itshape Shimwellia blattae},
 Yald/{\itshape Yersinia aldovae}, Yale/{\itshape Yersinia aleksiciae},
 Yent/{\itshape Yersinia enterocolitica}, Yint/{\itshape Yersinia intermedia},
 Ypse/{\itshape Yersinia pseudotuberculosis}, Yroh/{\itshape Yersinia rohdei}}
{\fill[\scol] (1806.7,{14+\k*21.53}) rectangle (1827.3,{34.6+\k*21.53});
 \node[legtext] (sp\k) at (1832.7,{24.3+\k*21.53}) {\sname};}
% ---------------- gene legend ----------------
\draw[legbox] (1831.7,856.7) rectangle (1961,1125);
\node[legtext] (getitle) at (1836.7,868.3) {Gene encoding:};
\foreach \gl/\gcol [count=\k from 0] in {Ssp6/ssp, TssA/tssA, TssB/tssB, TssC/tssC, Hcp/hcp, TssE/tssE, TssF/tssF, TssG/tssG, TssH/tssH, TssI/tssI}
{\filldraw[fill=\gcol, draw=black!80, line width=0.5bp] (1836.7,{881.7+\k*23.33}) rectangle (1856.7,{902.4+\k*23.33});
 \node[legtext] (gla\k) at (1860,{892+\k*23.33}) {\gl};}
\foreach \gl/\gcol [count=\k from 0] in {TssJ/tssJ, TssK/tssK, TssL/tssL, TssM/tssM, PAAR/paar, Fha/fha, TagJ/tagJ, PppA/pppA, TagF/tagF, Other/white}
{\filldraw[fill=\gcol, draw=black!80, line width=0.5bp] (1900,{881.7+\k*23.33}) rectangle (1920,{902.4+\k*23.33});
 \node[legtext] (glb\k) at (1923.3,{892+\k*23.33}) {\gl};}
\end{tikzpicture}
\end{document}
